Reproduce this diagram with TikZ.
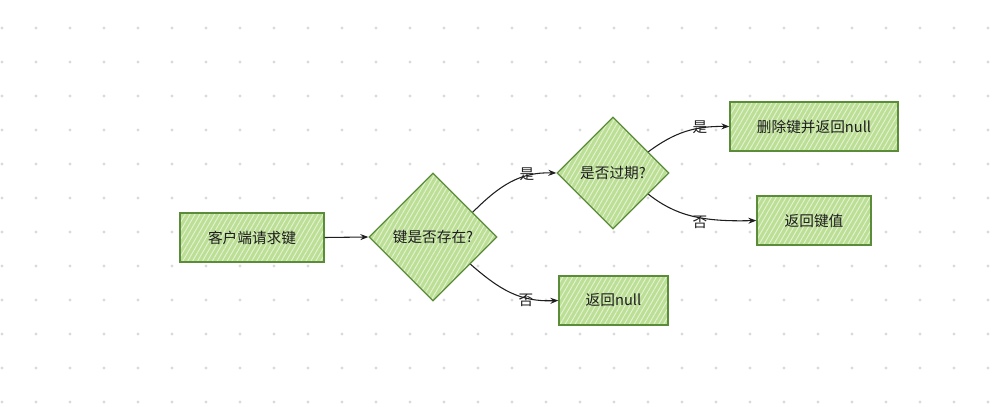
\documentclass[tikz,border=0pt]{standalone}
\usepackage{fontspec}
\newfontfamily\cjk{Noto Sans CJK SC}
\usetikzlibrary{shapes.geometric,patterns.meta,arrows.meta}
\definecolor{dotc}{HTML}{DADADA}
\definecolor{gfill}{HTML}{BCDF96}
\definecolor{gline}{HTML}{E4F2D4}
\definecolor{gdraw}{HTML}{5A8C3A}
\definecolor{ink}{HTML}{1E1E1E}
\tikzset{
  shapefill/.style={preaction={fill=gfill},
    pattern={Lines[angle=60,distance=3.2pt,line width=0.7pt]}, pattern color=gline,
    draw=gdraw, line width=1pt},
  stepbox/.style={shapefill, rectangle, minimum height=36.75pt, inner sep=0pt,
    font=\cjk\fontsize{11}{13}\selectfont, text=ink},
  dia/.style={shapefill, diamond, inner sep=0pt,
    font=\cjk\fontsize{11}{13}\selectfont, text=ink},
  conn/.style={draw=ink, line width=0.8pt, -{Stealth[length=6pt,width=4.5pt,inset=2pt]}},
  lab/.style={font=\cjk\fontsize{11}{13}\selectfont, text=ink, inner sep=0pt}
}
\begin{document}
\begin{tikzpicture}[x=0.75pt,y=-0.75pt]
\path[use as bounding box, fill=white] (0,0) rectangle (1000,407);
\foreach \i in {0,...,29}{
  \foreach \j in {0,...,11}{
    \fill[dotc] ({2+34*\i},{28+34*\j}) circle (1.2pt);
  }
}
\node[stepbox, minimum width=108pt] (b1) at (252,237.5) {客户端请求键};
\node[dia, minimum width=96pt, minimum height=96pt] (d1) at (433,237) {键是否存在?};
\node[dia, minimum width=84pt, minimum height=84pt] (d2) at (613,173) {是否过期?};
\node[stepbox, minimum width=126pt] (b2) at (814,126.5) {删除键并返回null};
\node[stepbox, minimum width=85.5pt] (b3) at (814,220.5) {返回键值};
\node[stepbox, minimum width=81.75pt] (b4) at (613.5,300.5) {返回null};
\draw[conn] (b1.east) -- (d1.west);
\draw[conn] (d1.32) .. controls (500,185) and (520,172) .. (d2.west);
\draw[conn] (d1.-36) .. controls (500,290) and (520,302) .. (b4.west);
\draw[conn] (d2.31) .. controls (675,132) and (695,126) .. (b2.west);
\draw[conn] (d2.-31) .. controls (675,215) and (700,222) .. (b3.west);
\node[lab] (l1) at (527,174) {是};
\node[lab] (l2) at (526,300) {否};
\node[lab] (l3) at (700,127) {是};
\node[lab] (l4) at (700,222) {否};
\end{tikzpicture}
\end{document}
